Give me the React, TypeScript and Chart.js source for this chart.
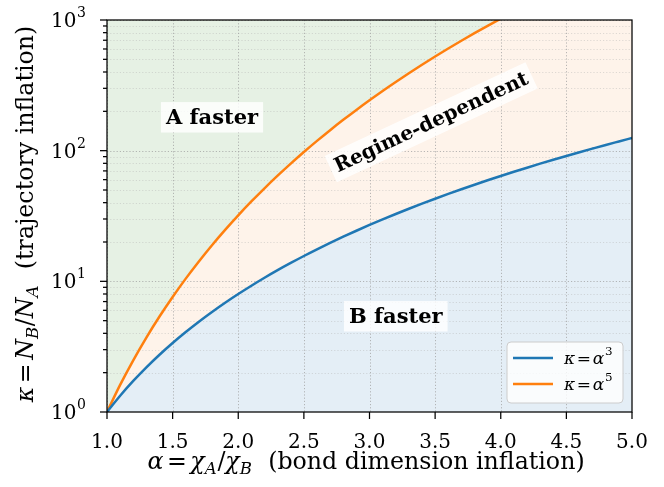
import React, { useEffect, useRef } from "react";
import { Chart, registerables } from "chart.js";

Chart.register(...registerables);

// ---- data ----
const alpha = [
  1.0, 1.1, 1.2, 1.3, 1.4, 1.5, 1.6, 1.7, 1.8, 1.9, 2.0, 2.1, 2.2, 2.3, 2.4, 2.5, 2.6, 2.7, 2.8, 2.9, 3.0,
  3.1, 3.2, 3.3, 3.4, 3.5, 3.6, 3.7, 3.8, 3.9, 4.0, 4.1, 4.2, 4.3, 4.4, 4.5, 4.6, 4.7, 4.8, 4.9, 5.0,
];
const kappaCubic = [
  1, 1.331, 1.728, 2.197, 2.744, 3.375, 4.096, 4.913, 5.832, 6.859, 8, 9.261, 10.65, 12.17, 13.82, 15.63,
  17.58, 19.68, 21.95, 24.39, 27, 29.79, 32.77, 35.94, 39.3, 42.88, 46.66, 50.65, 54.87, 59.32, 64, 68.92,
  74.09, 79.51, 85.18, 91.13, 97.34, 103.8, 110.6, 117.6, 125,
];
const kappaQuintic = [
  1, 1.611, 2.488, 3.713, 5.378, 7.594, 10.49, 14.2, 18.9, 24.76, 32, 40.84, 51.54, 64.36, 79.63, 97.66,
  118.8, 143.5, 172.1, 205.1, 243, 286.3, 335.5, 391.4, 454.4, 525.2, 604.7, 693.4, 792.4, 902.2, 1024,
  1159, 1307, 1470, 1649, 1845, 2060, 2293, 2548, 2825, 3125,
];
const xTicks = [1.0, 1.5, 2.0, 2.5, 3.0, 3.5, 4.0, 4.5, 5.0];
const xTickLabels = ["1.0", "1.5", "2.0", "2.5", "3.0", "3.5", "4.0", "4.5", "5.0"];
const yMajorTicks = [1, 10, 100, 1000];
const yMajorExp = ["0", "1", "2", "3"];
const yMinorTicks = [2, 3, 4, 5, 6, 7, 8, 9, 20, 30, 40, 50, 60, 70, 80, 90, 200, 300, 400, 500, 600, 700, 800, 900];
const seriesNames = ["cubic", "quintic"];
const regionLabels = ["A faster", "Regime-dependent", "B faster"];
const regionX = [1.8, 3.47, 3.2];
const regionY = [180, 165, 5.4];
const regionRot = [0, -25, 0];
const regionSize = [21, 20, 21];

// ---- styles ----
const BLUE = "#1f77b4";
const ORANGE = "#ff7f0e";
const BLUE_FILL = "rgb(228,238,246)";
const ORANGE_FILL = "rgb(254,243,234)";
const GREEN_FILL = "rgb(230,241,228)";
const SERIF = '"DejaVu Serif"';
const TICK_SIZE = 20;
const TITLE_SIZE = 23.7;

type Seg = { t: string; it?: boolean; scale?: number; dy?: number; gap?: number; bold?: boolean };

function segFont(s: Seg, size: number) {
  const sz = size * (s.scale ?? 1);
  return `${s.bold ? "bold " : ""}${s.it ? "italic " : ""}${sz.toFixed(1)}px ${SERIF}`;
}
function richWidth(ctx: CanvasRenderingContext2D, segs: Seg[], size: number) {
  let w = 0;
  for (const s of segs) {
    ctx.font = segFont(s, size);
    w += (s.gap ?? 0) * size + ctx.measureText(s.t).width;
  }
  return w;
}
function drawRich(
  ctx: CanvasRenderingContext2D,
  segs: Seg[],
  size: number,
  x: number,
  y: number,
  align: "left" | "center" | "right"
) {
  const w = richWidth(ctx, segs, size);
  let cx = align === "left" ? x : align === "center" ? x - w / 2 : x - w;
  ctx.textAlign = "left";
  ctx.textBaseline = "alphabetic";
  for (const s of segs) {
    ctx.font = segFont(s, size);
    cx += (s.gap ?? 0) * size;
    ctx.fillText(s.t, cx, y - (s.dy ?? 0) * size);
    cx += ctx.measureText(s.t).width;
  }
}

const gridPlugin = {
  id: "customGrid",
  beforeDraw(chart: any) {
    const { ctx, chartArea: a } = chart;
    ctx.save();
    ctx.fillStyle = "#ffffff";
    ctx.fillRect(0, 0, chart.width, chart.height);
    ctx.fillStyle = GREEN_FILL;
    ctx.fillRect(a.left, a.top, a.right - a.left, a.bottom - a.top);
    ctx.restore();
  },
  beforeDatasetsDraw(chart: any) {
    const { ctx, chartArea: a, scales } = chart;
    const xs = scales.x;
    const ys = scales.y;
    ctx.save();
    ctx.beginPath();
    ctx.rect(a.left, a.top, a.right - a.left, a.bottom - a.top);
    ctx.clip();
    ctx.lineWidth = 1;
    ctx.setLineDash([1.2, 2]);
    ctx.strokeStyle = "rgba(175,175,175,0.4)";
    for (const v of yMinorTicks) {
      const py = Math.round(ys.getPixelForValue(v)) + 0.5;
      ctx.beginPath();
      ctx.moveTo(a.left, py);
      ctx.lineTo(a.right, py);
      ctx.stroke();
    }
    ctx.strokeStyle = "rgba(160,160,160,0.75)";
    for (const v of yMajorTicks) {
      const py = Math.round(ys.getPixelForValue(v)) + 0.5;
      ctx.beginPath();
      ctx.moveTo(a.left, py);
      ctx.lineTo(a.right, py);
      ctx.stroke();
    }
    for (const v of xTicks) {
      const px = Math.round(xs.getPixelForValue(v)) + 0.5;
      ctx.beginPath();
      ctx.moveTo(px, a.top);
      ctx.lineTo(px, a.bottom);
      ctx.stroke();
    }
    ctx.restore();
  },
  afterDraw(chart: any) {
    const { ctx, chartArea: a, scales } = chart;
    const xs = scales.x;
    const ys = scales.y;
    ctx.save();
    ctx.setLineDash([]);

    // annotations
    for (let i = 0; i < regionLabels.length; i++) {
      const px = xs.getPixelForValue(regionX[i]);
      const py = ys.getPixelForValue(regionY[i]);
      const sz = regionSize[i];
      ctx.save();
      ctx.translate(px, py);
      ctx.rotate((regionRot[i] * Math.PI) / 180);
      ctx.font = `bold ${sz}px ${SERIF}`;
      const tw = ctx.measureText(regionLabels[i]).width;
      const bw = tw + 10;
      const bh = sz * 1.45;
      ctx.fillStyle = "rgba(255,255,255,0.82)";
      ctx.fillRect(-bw / 2, -bh / 2, bw, bh);
      ctx.fillStyle = "#000";
      ctx.textAlign = "center";
      ctx.textBaseline = "middle";
      ctx.fillText(regionLabels[i], 0, 1);
      ctx.restore();
    }

    // frame
    ctx.strokeStyle = "#000";
    ctx.lineWidth = 1.25;
    ctx.strokeRect(a.left, a.top, a.right - a.left, a.bottom - a.top);

    // x ticks
    ctx.fillStyle = "#000";
    ctx.font = `${TICK_SIZE}px ${SERIF}`;
    ctx.textAlign = "center";
    ctx.textBaseline = "alphabetic";
    for (let i = 0; i < xTicks.length; i++) {
      const px = xs.getPixelForValue(xTicks[i]);
      ctx.beginPath();
      ctx.moveTo(px, a.bottom);
      ctx.lineTo(px, a.bottom + 7);
      ctx.stroke();
      ctx.fillText(xTickLabels[i], px, a.bottom + 36);
    }
    // y ticks
    for (const v of yMinorTicks) {
      const py = ys.getPixelForValue(v);
      ctx.beginPath();
      ctx.moveTo(a.left, py);
      ctx.lineTo(a.left - 4, py);
      ctx.stroke();
    }
    for (let i = 0; i < yMajorTicks.length; i++) {
      const py = ys.getPixelForValue(yMajorTicks[i]);
      ctx.beginPath();
      ctx.moveTo(a.left, py);
      ctx.lineTo(a.left - 7, py);
      ctx.stroke();
      drawRich(
        ctx,
        [{ t: "10" }, { t: yMajorExp[i], scale: 0.7, dy: 0.5, gap: 0.03 }],
        TICK_SIZE,
        a.left - 21,
        py + 7,
        "right"
      );
    }

    // x title
    const xTitle: Seg[] = [
      { t: "α", it: true },
      { t: "=", gap: 0.15 },
      { t: "χ", it: true, gap: 0.15 },
      { t: "A", it: true, scale: 0.7, dy: -0.2 },
      { t: "/", gap: 0.03 },
      { t: "χ", it: true },
      { t: "B", it: true, scale: 0.7, dy: -0.2 },
      { t: "  (bond dimension inflation)", gap: 0.05 },
    ];
    drawRich(ctx, xTitle, TITLE_SIZE, 366, 469, "center");

    // y title
    const yTitle: Seg[] = [
      { t: "κ", it: true },
      { t: "=", gap: 0.15 },
      { t: "N", it: true, gap: 0.15 },
      { t: "B", it: true, scale: 0.7, dy: -0.2 },
      { t: "/", gap: 0.03 },
      { t: "N", it: true },
      { t: "A", it: true, scale: 0.7, dy: -0.2 },
      { t: "  (trajectory inflation)", gap: 0.05 },
    ];
    ctx.save();
    ctx.translate(33, 214);
    ctx.rotate(-Math.PI / 2);
    drawRich(ctx, yTitle, TITLE_SIZE, 0, 0, "center");
    ctx.restore();

    // legend
    const lx = 507, ly = 342, lw = 116, lh = 61, r = 4;
    ctx.beginPath();
    ctx.moveTo(lx + r, ly);
    ctx.lineTo(lx + lw - r, ly);
    ctx.arcTo(lx + lw, ly, lx + lw, ly + r, r);
    ctx.lineTo(lx + lw, ly + lh - r);
    ctx.arcTo(lx + lw, ly + lh, lx + lw - r, ly + lh, r);
    ctx.lineTo(lx + r, ly + lh);
    ctx.arcTo(lx, ly + lh, lx, ly + lh - r, r);
    ctx.lineTo(lx, ly + r);
    ctx.arcTo(lx, ly, lx + r, ly, r);
    ctx.closePath();
    ctx.fillStyle = "rgba(255,255,255,0.8)";
    ctx.fill();
    ctx.strokeStyle = "#cccccc";
    ctx.lineWidth = 1;
    ctx.stroke();
    const colors = [BLUE, ORANGE];
    const exps = ["3", "5"];
    for (let i = 0; i < seriesNames.length; i++) {
      const rowY = 358 + i * 26;
      ctx.strokeStyle = colors[i];
      ctx.lineWidth = 2.5;
      ctx.beginPath();
      ctx.moveTo(513, rowY);
      ctx.lineTo(553, rowY);
      ctx.stroke();
      ctx.fillStyle = "#000";
      drawRich(
        ctx,
        [
          { t: "κ", it: true },
          { t: "=", gap: 0.1 },
          { t: "α", it: true, gap: 0.1 },
          { t: exps[i], scale: 0.7, dy: 0.55, gap: 0.05 },
        ],
        17,
        564,
        rowY + 6,
        "left"
      );
    }
    ctx.restore();
  },
};

export default function App() {
  const ref = useRef<HTMLCanvasElement | null>(null);
  useEffect(() => {
    document.body.style.margin = "0";
    document.body.style.overflow = "hidden";
    if (!ref.current) return;
    const chart = new Chart(ref.current, {
      type: "line",
      data: {
        datasets: [
          {
            label: seriesNames[0],
            data: alpha.map((a, i) => ({ x: a, y: kappaCubic[i] })),
            borderColor: BLUE,
            backgroundColor: BLUE_FILL,
            borderWidth: 2.5,
            pointRadius: 0,
            fill: "start",
            cubicInterpolationMode: "monotone",
            clip: 0,
          },
          {
            label: seriesNames[1],
            data: alpha.map((a, i) => ({ x: a, y: kappaQuintic[i] })),
            borderColor: ORANGE,
            backgroundColor: ORANGE_FILL,
            borderWidth: 2.5,
            pointRadius: 0,
            fill: 0,
            cubicInterpolationMode: "monotone",
            clip: 0,
          },
        ],
      },
      options: {
        responsive: false,
        devicePixelRatio: 1,
        animation: false,
        layout: { padding: { left: 0, right: 32, top: 20, bottom: 0 } },
        plugins: {
          legend: { display: false },
          tooltip: { enabled: false },
          filler: { drawTime: "beforeDatasetsDraw" },
        },
        scales: {
          x: {
            type: "linear",
            min: 1,
            max: 5,
            ticks: { display: false },
            grid: { display: false },
            border: { display: false },
            afterFit: (s: any) => {
              s.height = 75;
            },
          },
          y: {
            type: "logarithmic",
            min: 1,
            max: 1000,
            ticks: { display: false },
            grid: { display: false },
            border: { display: false },
            afterFit: (s: any) => {
              s.width = 107;
            },
          },
        },
      } as any,
      plugins: [gridPlugin],
    } as any);
    return () => chart.destroy();
  }, []);
  return (
    <div style={{ width: 664, height: 487 }}>
      <canvas ref={ref} width={664} height={487} style={{ display: "block" }} />
    </div>
  );
}
